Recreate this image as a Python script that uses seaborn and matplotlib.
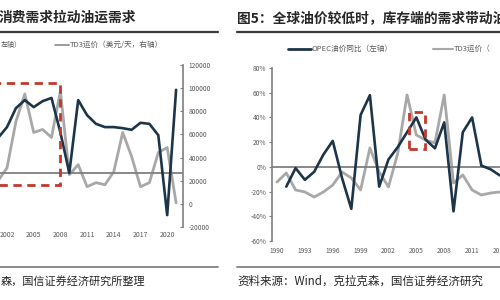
import matplotlib
matplotlib.use("Agg")
import matplotlib.pyplot as plt
import seaborn as sns
import pandas as pd
from matplotlib.patches import Rectangle
from matplotlib.lines import Line2D

sns.set_style("white")
plt.rcParams['font.family'] = ['Noto Sans CJK SC', 'DejaVu Sans']
plt.rcParams['axes.unicode_minus'] = False

# ---------------- data ----------------
# left panel (annual)
left_years = list(range(2001, 2022))
left_demand = [6.5, 8.5, 12.0, 13.5, 12.2, 13.3, 13.9, 7.5, 0.0, 13.5, 10.7, 9.1,
               8.5, 8.5, 8.3, 8.0, 9.3, 9.1, 7.0, -7.8, 15.4]
left_td3 = [20000, 31000, 71000, 95000, 61700, 64300, 57400, 97400, 25200, 33900,
            14800, 18300, 16500, 27800, 61700, 40900, 14800, 18300, 44300, 48700, 900]
left_xticks = [2002, 2005, 2008, 2011, 2014, 2017, 2020]
left_rticks = [-20000, 0, 20000, 40000, 60000, 80000, 100000, 120000]
left_highlight = (2000.0, 2007.96, -2.2, 16.7)

# right panel (annual)
opec_years = list(range(1991, 2015))
opec_yoy = [-16, -1, -10.5, -4, 10, 21, -9, -34, 42, 58, -16, 6, 16, 28, 40, 22,
            15, 36, -36, 28, 40, 1, -2, -7]
td3_years = list(range(1990, 2015))
td3_rate = [40900, 47200, 35400, 34000, 30500, 34000, 38800, 47900, 43700, 35400,
            64500, 47900, 37500, 61000, 101300, 73500, 70000, 68000, 101300, 40200,
            45800, 35400, 31900, 33300, 34000]
right_xticks = [1990, 1993, 1996, 1999, 2002, 2005, 2008, 2011, 2014]
right_yticks = [-60, -40, -20, 0, 20, 40, 60, 80]
right_highlight = (2004.2, 2005.9, 14.6, 44.5)

title_left = "消费需求拉动油运需求"
title_right = "图5：全球油价较低时，库存端的需求带动油"
legend_left_a = "左轴）"
legend_left_b = "TD3运价（美元/天，右轴）"
legend_right_a = "OPEC油价同比（左轴）"
legend_right_b = "TD3运价（"
source_left = "森，国信证券经济研究所整理"
source_right = "资料来源：Wind，克拉克森，国信证券经济研究"

DARK = "#1d3548"
GRAY = "#a8a8a8"
AXC = "#7f7f7f"
TXT = "#595959"
RED = "#c0392b"

W, H = 500, 300
fig = plt.figure(figsize=(5, 3), dpi=100)
fig.patch.set_facecolor("white")

def fx(px):
    return px / W

def fy(py):
    return 1 - py / H

# ---------------- left panel ----------------
axL = fig.add_axes([fx(-20), fy(227), fx(203), 162 / H])
axLr = axL.twinx()
axL.set_zorder(axLr.get_zorder() + 1)
axL.patch.set_visible(False)

dfL = pd.DataFrame({"year": left_years, "demand": left_demand, "td3": left_td3})
sns.lineplot(data=dfL, x="year", y="td3", ax=axLr, color=GRAY, lw=2.0, legend=False)
sns.lineplot(data=dfL, x="year", y="demand", ax=axL, color=DARK, lw=1.9, legend=False)

axL.set_xlim(2002 - 27 / 8.9, 2002 + 176 / 8.9)
axL.set_ylim(-10, 20)
axLr.set_ylim(-20000, 120000)
axL.axhline(0, color=AXC, lw=1.3, zorder=0)
for ax in (axL, axLr):
    for s in ax.spines.values():
        s.set_visible(False)
    ax.set_xlabel("")
    ax.set_ylabel("")
axL.set_yticks([])
axL.set_xticks(left_xticks)
axL.set_xticklabels([str(v) for v in left_xticks])
axL.tick_params(axis="x", length=0, labelsize=5, labelcolor=TXT, pad=3)
axLr.spines["right"].set_visible(True)
axLr.spines["right"].set_color(AXC)
axLr.spines["right"].set_linewidth(1.2)
axLr.set_yticks(left_rticks)
axLr.set_yticklabels([str(v) for v in left_rticks])
axLr.tick_params(axis="y", direction="in", length=2, color=AXC, labelsize=4.8,
                 labelcolor=TXT, pad=4)
x0, x1, y0, y1 = left_highlight
axL.add_patch(Rectangle((x0, y0), x1 - x0, y1 - y0, fill=False, ec=RED, lw=2.0,
                        ls=(0, (3, 2)), zorder=5, clip_on=False))

# ---------------- right panel ----------------
axR = fig.add_axes([fx(272), fy(241), fx(248), 173 / H])
axRr = axR.twinx()
axR.set_zorder(axRr.get_zorder() + 1)
axR.patch.set_visible(False)

dfO = pd.DataFrame({"year": opec_years, "yoy": opec_yoy})
dfT = pd.DataFrame({"year": td3_years, "td3": td3_rate})
sns.lineplot(data=dfT, x="year", y="td3", ax=axRr, color=GRAY, lw=2.0, legend=False)
sns.lineplot(data=dfO, x="year", y="yoy", ax=axR, color=DARK, lw=1.9, legend=False)

axR.set_xlim(1990 - 5 / 9.29, 1990 + 243 / 9.29)
axR.set_ylim(-60, 80)
axRr.set_ylim(0, 120000)
axR.axhline(0, color=AXC, lw=1.3, zorder=0)
for ax in (axR, axRr):
    for s in ax.spines.values():
        s.set_visible(False)
    ax.set_xlabel("")
    ax.set_ylabel("")
axRr.set_yticks([])
axR.spines["left"].set_visible(True)
axR.spines["left"].set_color(AXC)
axR.spines["left"].set_linewidth(1.2)
axR.set_yticks(right_yticks)
axR.set_yticklabels([f"{v}%" for v in right_yticks])
axR.tick_params(axis="y", direction="out", length=2.5, color=AXC, labelsize=4.8,
                labelcolor=TXT, pad=1.5, left=True)
axR.set_xticks(right_xticks)
axR.set_xticklabels([str(v) for v in right_xticks])
axR.tick_params(axis="x", length=0, labelsize=4.8, labelcolor=TXT, pad=4)
x0, x1, y0, y1 = right_highlight
axR.add_patch(Rectangle((x0, y0), x1 - x0, y1 - y0, fill=False, ec=RED, lw=2.0,
                        ls=(0, (3, 2)), zorder=5))

# ---------------- titles, rules, legends, sources ----------------
fig.text(fx(-1), fy(18), title_left, fontsize=9.9, fontweight="bold",
         color="#262626", va="center", ha="left")
fig.text(fx(237), fy(18), title_right, fontsize=9.9, fontweight="bold",
         color="#262626", va="center", ha="left")
for xa, xb in ((0, 218), (237, 500)):
    fig.add_artist(Line2D([fx(xa), fx(xb)], [fy(32), fy(32)], color="#3a3a3a", lw=1.6))
    fig.add_artist(Line2D([fx(xa), fx(xb)], [fy(267), fy(267)], color="#8c8c8c", lw=1.4))

# left legend
fig.text(fx(1), fy(45), legend_left_a, fontsize=5, color=TXT, va="center", ha="left")
fig.add_artist(Line2D([fx(55), fx(69)], [fy(45), fy(45)], color="#8a8a8a", lw=1.2))
fig.text(fx(70), fy(45), legend_left_b, fontsize=5.5, color=TXT, va="center", ha="left")
# right legend
fig.add_artist(Line2D([fx(288), fx(311)], [fy(49), fy(49)], color=DARK, lw=2.0))
fig.text(fx(312), fy(49), legend_right_a, fontsize=5.5, color=TXT, va="center", ha="left")
fig.add_artist(Line2D([fx(433), fx(453)], [fy(49), fy(49)], color=GRAY, lw=1.5))
fig.text(fx(454), fy(49), legend_right_b, fontsize=5.5, color=TXT, va="center", ha="left")

fig.text(fx(1), fy(281), source_left, fontsize=8, color="#262626", va="center", ha="left")
fig.text(fx(237), fy(281), source_right, fontsize=8.3, color="#262626", va="center", ha="left")

fig.savefig("out.png", dpi=100, facecolor="white")
